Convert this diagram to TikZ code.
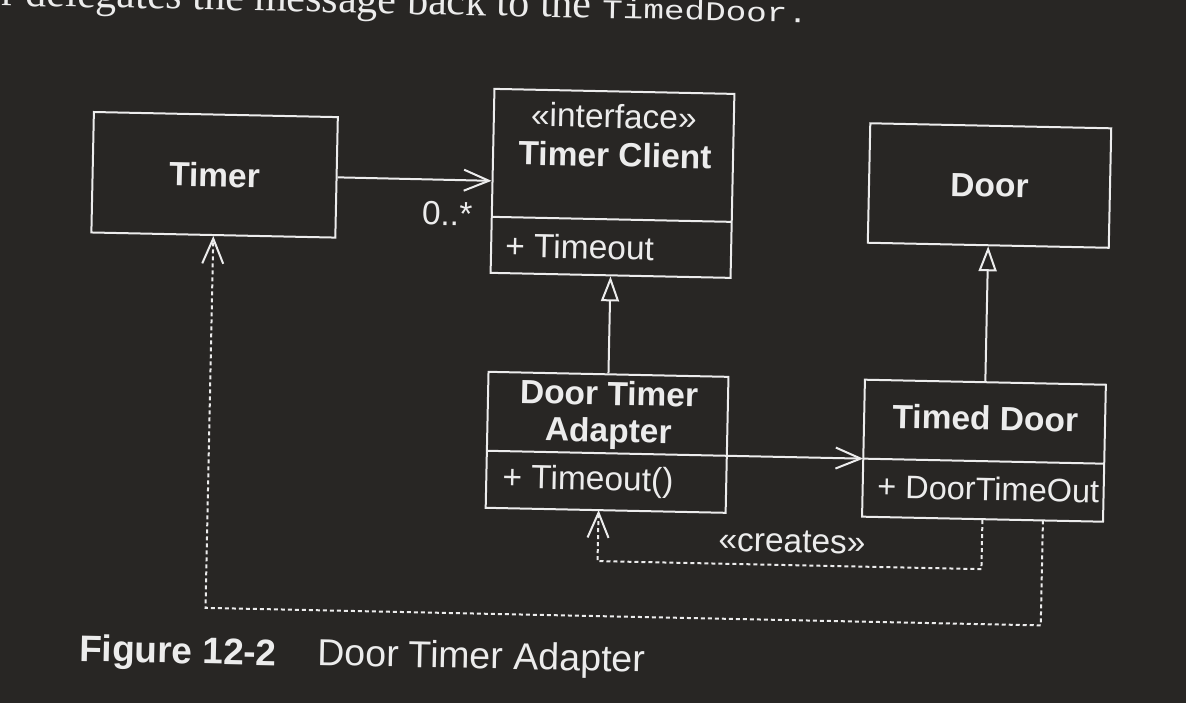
\documentclass[tikz,border=0pt]{standalone}
\usepackage{fontspec}
\setmainfont{Liberation Sans}
\newfontfamily\bodyserif{Liberation Serif}
\newfontfamily\bodymono[FakeStretch=1.27]{Liberation Mono}
\usetikzlibrary{arrows.meta}
\definecolor{bg}{RGB}{40,38,36}
\definecolor{ink}{RGB}{236,236,236}
\begin{document}
\begin{tikzpicture}[x=1pt,y=-1pt,
  every node/.style={text=ink, inner sep=0pt},
  classbox/.style={draw=ink, line width=2pt},
  lbl/.style={font=\fontsize{33.5}{40}\selectfont},
  blbl/.style={font=\fontsize{33.5}{40}\selectfont\bfseries},
  conn/.style={draw=ink, line width=2pt},
  assoc/.style={conn, -{Straight Barb[length=25pt,width=21pt]}},
  gen/.style={conn, -{Triangle[open, length=25pt, width=18pt]}},
  dep/.style={conn, dash pattern=on 4pt off 3pt, -{Straight Barb[length=25pt,width=21pt]}}
]
\fill[bg] (0,0) rectangle (1186,703);
\useasboundingbox (0,0) rectangle (1186,703);

\begin{scope}[rotate around={-1.2:(593,350)}, transform shape]
% running text at the top of the page
\node[font=\bodyserif\fontsize{42}{50}\selectfont, anchor=base west] (body1) at (-6,18) {r delegates the message back to the};
\node[font=\bodymono\fontsize{27}{32}\selectfont, anchor=base west] (body2) at (595,18) {TimedDoor.};

% classes
\node[classbox, blbl, minimum width=244pt, minimum height=120.5pt] (timer) at (211,182.75) {Timer};
\node[classbox, blbl, minimum width=241pt, minimum height=119.5pt] (door) at (986,177.25) {Door};

\node[classbox, minimum width=240pt, minimum height=184pt] (tc) at (609,183) {};
\node[lbl, anchor=base] (tcst) at (609,127.6) {«interface»};
\node[blbl, anchor=base] (tcname) at (611,166.5) {Timer Client};
\node[lbl, anchor=base west] (tcop) at (503,259) {+ Timeout};
\coordinate (tcdw) at (489,219);
\coordinate (tcde) at (729,219);
\draw[conn] (tcdw) -- (tcde);

\node[classbox, minimum width=240pt, minimum height=136pt] (adapter) at (609,442) {};
\node[blbl, anchor=base] (adname1) at (610,404.7) {Door Timer};
\node[blbl, anchor=base] (adname2) at (610,441.7) {Adapter};
\node[lbl, anchor=base west] (adop) at (505,490) {+ Timeout()};
\coordinate (addw) at (489,453);
\coordinate (adde) at (729,453);
\draw[conn] (addw) -- (adde);

\node[classbox, minimum width=241pt, minimum height=137pt] (td) at (986,442.5) {};
\node[blbl, anchor=base] (tdname) at (986.7,421.8) {Timed Door};
\node[font=\fontsize{32.5}{39}\selectfont, anchor=base west] (tdop) at (880,492) {+ DoorTimeOut};
\coordinate (tddw) at (865.5,453);
\coordinate (tdde) at (1106.5,453);
\draw[conn] (tddw) -- (tdde);

% connectors
\draw[assoc] (timer.east) -- (tc.west);
\node[lbl, anchor=base west] (mult) at (419,228.6) {0..*};
\draw[gen] (adapter.north) -- (tc.south);
\draw[gen] (td.north) -- (door.south);
\draw[assoc] (adde) -- (tddw);

\coordinate (adin) at (602,510);
\draw[dep] (td.south) -- ++(0,49) -| (adin);
\node[lbl, anchor=base] (creates) at (796,548) {«creates»};

\coordinate (tdout) at (1046.5,511);
\draw[dep] (tdout) -- ++(0,105) -| (timer.south);

% caption
\node[font=\fontsize{37}{44}\selectfont\bfseries, anchor=base west] (figno) at (85.6,672) {Figure 12-2};
\node[font=\fontsize{37.5}{44}\selectfont, anchor=base west] (figtitle) at (323.7,671) {Door Timer Adapter};
\end{scope}
\end{tikzpicture}
\end{document}
